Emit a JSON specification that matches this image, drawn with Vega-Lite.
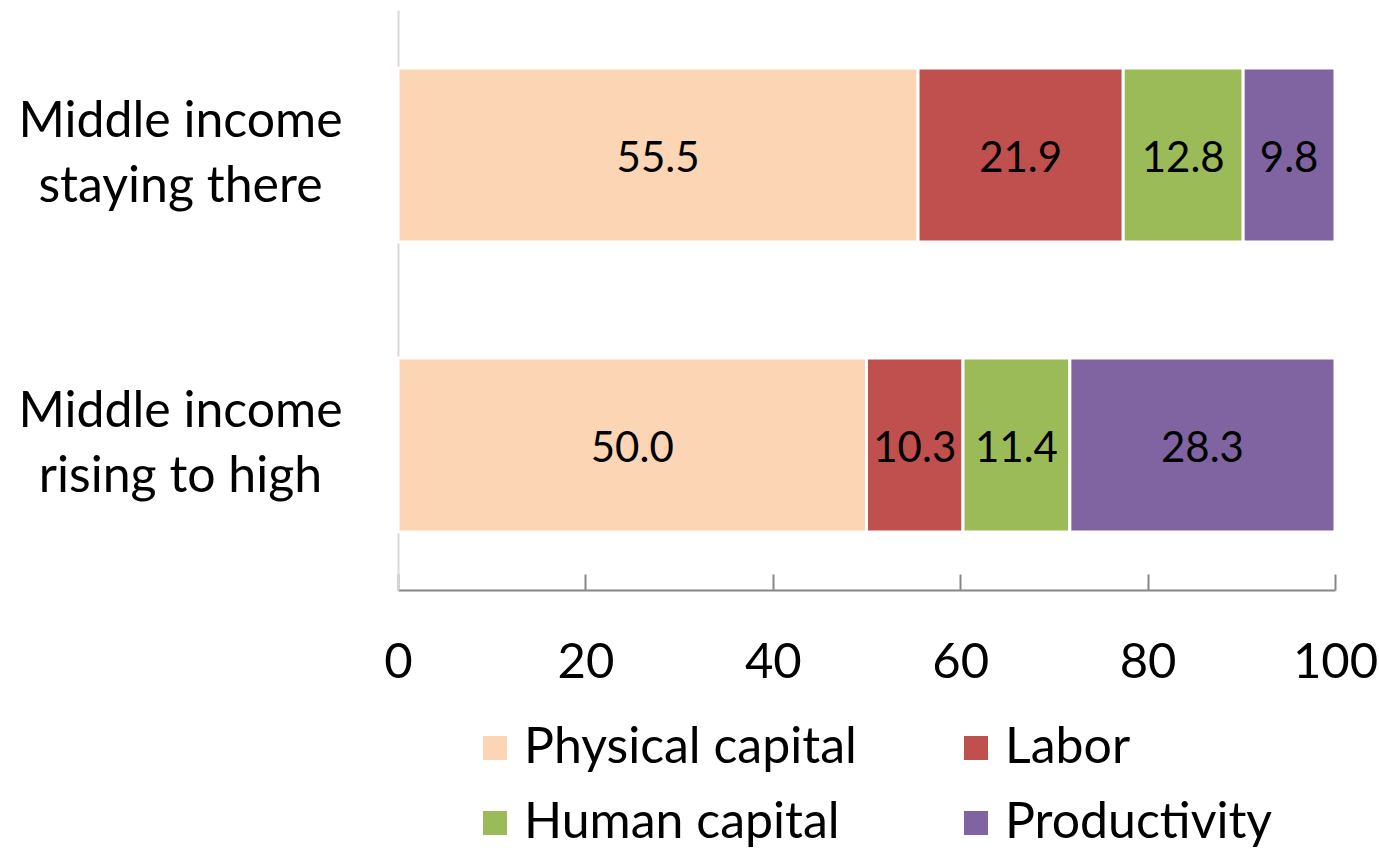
{
  "$schema": "https://vega.github.io/schema/vega-lite/v6.json",
  "width": 937,
  "height": 580,
  "autosize": {"type": "none"},
  "padding": {"left": 398, "top": 10, "right": 44, "bottom": 262},
  "background": "#ffffff",
  "config": {"view": {"stroke": null}, "font": "Lato"},
  "data": {
    "values": [
      {"group": "Middle income staying there", "factor": "Physical capital", "rank": 1, "share": 55.5},
      {"group": "Middle income staying there", "factor": "Labor", "rank": 2, "share": 21.9},
      {"group": "Middle income staying there", "factor": "Human capital", "rank": 3, "share": 12.8},
      {"group": "Middle income staying there", "factor": "Productivity", "rank": 4, "share": 9.8},
      {"group": "Middle income rising to high", "factor": "Physical capital", "rank": 1, "share": 50.0},
      {"group": "Middle income rising to high", "factor": "Labor", "rank": 2, "share": 10.3},
      {"group": "Middle income rising to high", "factor": "Human capital", "rank": 3, "share": 11.4},
      {"group": "Middle income rising to high", "factor": "Productivity", "rank": 4, "share": 28.3}
    ]
  },
  "transform": [
    {"stack": "share", "groupby": ["group"], "sort": [{"field": "rank", "order": "ascending"}], "as": ["start", "end"]},
    {"calculate": "(datum.start + datum.end) / 2", "as": "mid"}
  ],
  "encoding": {
    "y": {
      "field": "group",
      "type": "nominal",
      "sort": ["Middle income staying there", "Middle income rising to high"],
      "scale": {"paddingInner": 0.4, "paddingOuter": 0.2},
      "axis": {
        "title": null,
        "ticks": false,
        "domainColor": "#d9d9d9",
        "domainWidth": 2,
        "labelAlign": "center",
        "labelBaseline": "middle",
        "labelPadding": 218,
        "labelOffset": -33,
        "labelFontSize": 50,
        "labelLineHeight": 65,
        "labelColor": "#000000",
        "labelLimit": 0,
        "labelExpr": "['Middle income', slice(datum.label, 14)]"
      }
    }
  },
  "layer": [
    {
      "mark": {"type": "bar", "stroke": "#ffffff", "strokeWidth": 3},
      "encoding": {
        "x": {
          "field": "start",
          "type": "quantitative",
          "scale": {"domain": [0, 100], "nice": false},
          "axis": {
            "title": null,
            "values": [0, 20, 40, 60, 80, 100],
            "grid": false,
            "domainColor": "#868686",
            "domainWidth": 2,
            "tickColor": "#868686",
            "tickWidth": 2,
            "tickSize": -16,
            "labelFlush": false,
            "labelOverlap": false,
            "labelFontSize": 49,
            "labelColor": "#000000",
            "labelBaseline": "middle",
            "labelPadding": 88
          }
        },
        "x2": {"field": "end"},
        "color": {
          "field": "factor",
          "type": "nominal",
          "scale": {
            "domain": ["Physical capital", "Labor", "Human capital", "Productivity"],
            "range": ["#FCD5B5", "#C0504D", "#9BBB59", "#8064A2"]
          },
          "legend": {
            "title": null,
            "orient": "none",
            "legendX": 72,
            "legendY": 713,
            "padding": 0,
            "columns": 2,
            "direction": "horizontal",
            "symbolType": "square",
            "symbolSize": 676,
            "symbolStrokeColor": "#ffffff",
            "symbolStrokeWidth": 2,
            "symbolOpacity": 1,
            "labelFontSize": 50,
            "labelColor": "#000000",
            "labelOffset": 4,
            "labelLimit": 0,
            "columnPadding": 94,
            "rowPadding": 25
          }
        }
      }
    },
    {
      "mark": {"type": "text", "fontSize": 42, "color": "#000000", "baseline": "middle", "align": "center", "dy": 4},
      "encoding": {
        "x": {"field": "mid", "type": "quantitative"},
        "text": {"field": "share", "type": "quantitative", "format": ".1f"}
      }
    }
  ]
}
